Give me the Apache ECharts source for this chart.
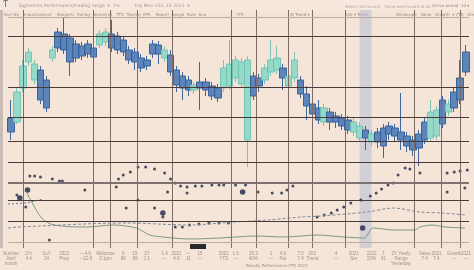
<!DOCTYPE html>
<html><head><meta charset="utf-8">
<script src="https://cdn.jsdelivr.net/npm/echarts@6/dist/echarts.min.js"></script>
<style>html,body{margin:0;padding:0;background:#f5e4d8;}#c{width:474px;height:270px;}</style>
</head><body><div id="c"></div>
<script>
// ---- data ----
const opens  = [130,126,160,186,168,178,168,190,216,214,210,204,202,204,200,203,206,214,212,208,198,196,190,188,204,203,190,193,178,172,168,158,166,166,162,160,160,162,170,164,108,172,170,168,176,178,180,162,170,168,154,144,140,126,136,132,130,128,116,110,118,106,116,120,122,120,116,112,108,114,126,110,112,148,136,156,170,196];
const closes = [116,156,182,196,184,148,140,198,200,198,186,190,192,194,191,214,216,200,198,196,188,186,180,182,194,194,198,176,163,160,158,163,160,158,152,150,180,184,188,186,188,152,162,180,188,190,170,172,188,154,142,134,128,140,126,126,122,118,126,122,110,114,106,102,114,112,108,102,98,100,108,136,138,124,144,140,148,176];
const highs  = [148,160,188,200,188,182,172,202,220,230,214,208,206,208,204,218,220,228,216,212,202,200,194,192,208,207,202,198,182,176,172,166,186,170,166,164,188,208,192,190,192,176,174,184,208,202,184,176,196,172,162,148,148,144,140,136,134,132,130,126,122,118,120,124,126,124,155,116,112,118,130,148,142,152,148,160,188,203];
const lows   = [108,124,156,182,164,144,136,186,196,194,172,186,188,190,186,200,202,196,194,192,184,178,176,178,190,184,186,172,156,148,152,154,138,152,148,146,156,158,166,160,81,148,156,164,172,174,158,158,166,150,128,130,124,122,118,120,118,114,112,106,98,102,100,90,108,106,98,96,92,82,104,106,108,120,132,136,144,172];
// dotted indicator points [position, value]
const dotsSmall = [[3.7,72],[4.5,72],[5.5,71],[7.5,69],[8.7,67],[9.2,67],[18.3,61],[18.7,69],[19.5,73],[20.7,76],[22,81],[23.3,81],[24.8,79],[26.5,75],[27.5,69],[28.3,65],[29.2,62],[30.3,61],[31.7,62],[32.8,62],[34.5,63],[35.7,63],[36.5,63],[38.5,63],[40.2,63],[42.3,56],[44.7,55],[46.3,55],[47.2,58],[48.2,62],[27,56],[30.3,55],[52.3,31],[53.5,33],[54.7,35],[55.7,38],[56.8,41],[58,45],[59.7,48],[61.3,52],[62.3,55],[63.2,59],[64.3,63],[65.2,65],[66,73],[67.2,80],[68,79],[69.7,75],[74.3,75],[75.5,76],[76.5,77],[77.7,78],[74.3,56],[77.3,60],[22,48],[24.8,40],[26.2,31],[28.3,21],[29.5,21],[30.7,23],[32.3,24],[34,25],[35.7,25],[37.3,25],[13,58],[20,40],[1.5,53],[3,41],[7,8]];
const dotsBig = [[39.7,56],[26.2,35],[60,20],[2,50],[3.3,58]];
const lineLow = [[3.2,55],[5.7,30],[7.8,23],[13.3,21],[17.8,23],[21.7,20],[24,13],[26.2,11],[30.7,9],[35.7,10],[38.5,11],[41.8,12],[46.8,11],[52.3,13],[56.8,11],[60.2,10],[61.8,20],[65.2,18],[68.8,18],[69.7,21],[71.8,23],[74,21],[77.3,20]];
const lineMid = [[0,20],[1.7,21],[20,25],[30.7,23],[38.3,26],[44,28],[49.7,31],[53,32],[60.7,36],[65.2,40],[69.7,36],[73.5,35],[77.3,33]];
const lineLeft = [[0,44],[3,45],[6,49]];
// grid line levels
const hLevels = [212,161,131,107,86,48,27];
const hLevelsLight = [231,6];
const vLevels = [2.5,14.5,17.3,21.8,27.8,37.8,42,47.5,51.5,57,68.8,73.3,76.5];
// bottom table labels
const tickLabels = {0:"Number\nApril\nmonth",3:"2Yr\n4.4",6:"SoY\n14",9:"2021\nProp",12:"—\n—",13:"4.6\n22.6",16:"Welcome\n3.1pm",19:"6\n88",21:"15\n89",23:"2Y\n1.1",26:"1.4\n—",28:"2021\n4.0",30:"—\n11",32:"15\n—",36:"2021\nYTD",38:"1.6\n—",41:"15.3\n40%",44:"1\n—",46:"4.6\nFat",49:"7.5\n7.4",51:"201\nTrend",55:"4\n—",58:"2021\nSer",61:"2222\n20%",63:"7\n41",66:"2Y Yearly\nRange\nYesterday",70:"Sales\n7.4",72:"2021\n7.4",75:"Growth\n—",77:"2021\n—"};

const cats = opens.map((_, i) => String(i));
const candleData = opens.map((o, i) => [o, closes[i], lows[i], highs[i]]);

const chart = echarts.init(document.getElementById('c'), null, {renderer: 'canvas'});
const txt = (x, y, s, size, color, extra) => Object.assign({type: 'text', left: x, top: y, style: {text: s, fontSize: size, fill: color || '#9a8a84', fontFamily: 'DejaVu Sans'}}, extra || {});
chart.setOption({
  backgroundColor: '#f5e4d8',
  animation: false,
  grid: {left: 3, right: 3, top: 10, bottom: 22},
  xAxis: [
    {type: 'category', data: cats, boundaryGap: true,
     axisLine: {show: false}, axisTick: {show: false}, splitLine: {show: false},
     axisLabel: {interval: 0, fontSize: 4.5, lineHeight: 5, color: '#a09089', margin: 3,
       formatter: (v, i) => tickLabels[i] || ''}},
    {type: 'value', min: 0, max: 78, show: false}
  ],
  yAxis: {type: 'value', min: 0, max: 238, show: false},
  series: [
    {type: 'candlestick', data: candleData, barWidth: 7, z: 3,
     itemStyle: {color: '#8fd9c8', color0: '#5480b8', borderColor: '#72c2b1', borderColor0: '#34609a', borderWidth: 1, opacity: 0.95},
     markArea: {silent: true, itemStyle: {color: 'rgba(178,185,214,0.5)'}, data: [[{xAxis: '59'}, {xAxis: '61'}]]}
    },
    {type: 'line', xAxisIndex: 1, data: [], silent: true,
     markLine: {silent: true, symbol: 'none', label: {show: false},
       data: vLevels.map(v => ({xAxis: v, lineStyle: {color: '#7d6c66', width: 1, type: 'solid'}}))
         .concat(hLevels.map(v => ({yAxis: v, lineStyle: {color: '#4b3b37', width: 1.2, type: 'solid'}})))
         .concat(hLevelsLight.map(v => ({yAxis: v, lineStyle: {color: '#bfaaa1', width: 1, type: 'solid'}})))
         .concat([{yAxis: 65, lineStyle: {color: '#7e726f', width: 2, type: 'solid'}}])}},
    {type: 'line', xAxisIndex: 1, data: lineLow, symbol: 'none', smooth: 0.3,
     lineStyle: {color: '#7c9a82', width: 1}},
    {type: 'line', xAxisIndex: 1, data: lineMid, symbol: 'none', smooth: 0.3,
     lineStyle: {color: '#7f8b95', width: 1, type: [3, 2]}},
    {type: 'line', xAxisIndex: 1, data: lineLeft, symbol: 'none',
     lineStyle: {color: '#5d7aa0', width: 1, type: [2, 2]}},
    {type: 'scatter', xAxisIndex: 1, data: dotsSmall, symbolSize: 3, itemStyle: {color: '#1e2848'}},
    {type: 'scatter', xAxisIndex: 1, data: dotsBig, symbolSize: 5.5, itemStyle: {color: '#1b2545'}}
  ],
  graphic: [
    {type: 'rect', left: 0, top: 0, shape: {width: 474, height: 10}, style: {fill: '#f7e8de'}},
    {type: 'rect', left: 0, top: 10, shape: {width: 3, height: 238}, style: {fill: '#c9bcb6'}},
    txt(3, 1, 'Ƭ', 8, '#5a6a6a'),
    txt(18, 3, 'Tagmetrics', 4.5, '#a4958f'),
    txt(44, 3, 'Performance/trading range  ▾  1%', 4.5, '#a4958f'),
    txt(135, 3, 'Dly Mov 252, 15 2022  ▾', 4.5, '#a4958f'),
    txt(345, 5, 'Select instrument   Value benchmark of all', 4, '#b3a49e'),
    txt(432, 4, 'Active period  1d ▾', 4, '#9a8a84'),
    txt(4, 13, 'Sort No    Industrial/sort    Margin%  Rating   Industrial   TTD  Topline  EPS    Report  Range  Rate  Ana', 4, '#9a8a84'),
    txt(236, 13, 'YTR', 4, '#9a8a84'),
    txt(290, 13, 'W Trend ▾', 4, '#9a8a84'),
    txt(345, 13, '200 ▾ Trend', 4, '#9a8a84'),
    txt(396, 13, 'Wholesale   Value   Growth  ▾ YTD   Atrend', 4, '#9a8a84'),
    {type: 'rect', left: 190, top: 244, shape: {width: 16, height: 5}, style: {fill: '#2a2a2e'}},
    txt(246, 264, 'Results Performance YTD 2022', 4, '#9a8a84')
  ]
});
</script></body></html>
